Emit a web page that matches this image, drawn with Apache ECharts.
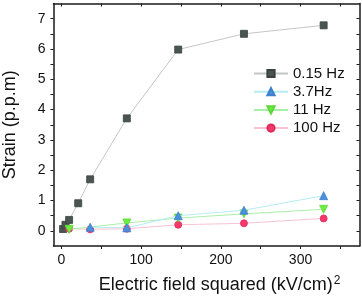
<!DOCTYPE html>
<html>
<head>
<meta charset="utf-8">
<script src="https://cdn.jsdelivr.net/npm/echarts@6/dist/echarts.min.js"></script>
<style>html,body{margin:0;padding:0;background:#fff}#c{width:362px;height:297px}</style>
</head>
<body>
<div id="c"></div>
<script>
const seriesNames = ['0.15 Hz', '3.7Hz', '11 Hz', '100 Hz'];
const x015 = [2, 5, 9.6, 21, 36, 82, 146.5, 229, 329];
const y015 = [0.06, 0.2, 0.36, 0.91, 1.7, 3.71, 5.98, 6.5, 6.78];
const x37 = [36, 82, 146.5, 229, 329];
const y37 = [0.12, 0.1, 0.5, 0.68, 1.16];
const x11 = [9.6, 82, 146.5, 229, 329];
const y11 = [0.05, 0.26, 0.42, 0.56, 0.71];
const x100 = [9.6, 36, 82, 146.5, 229, 329];
const y100 = [0.07, 0.05, 0.07, 0.2, 0.25, 0.41];
const xTickLabels = [0, 100, 200, 300];
const xTicks = [0, 50, 100, 150, 200, 250, 300, 350];
const yTickLabels = [0, 1, 2, 3, 4, 5, 6, 7];
const yTicks = [0, 0.5, 1, 1.5, 2, 2.5, 3, 3.5, 4, 4.5, 5, 5.5, 6, 6.5, 7];

const pair = (xs, ys) => xs.map((v, i) => [v, ys[i]]);
const FONT = 'Liberation Sans';
const X_MIN = -10, X_MAX = 374, Y_MIN = -0.5, Y_MAX = 7.5;
const lineC = '#1a1a1a';

function ax(pos, min, max, ticks, labels, inside, margin) {
  return {
    type: 'value', gridIndex: 0, position: pos, min: min, max: max,
    splitLine: { show: false },
    axisLine: { show: true, onZero: false, lineStyle: { color: lineC, width: 1.5 } },
    axisTick: { show: true, inside: inside, length: 3, customValues: ticks, lineStyle: { color: lineC, width: 1 } },
    axisLabel: labels ? { show: true, customValues: labels, margin: margin, fontFamily: FONT, fontSize: 14, color: '#111' } : { show: false }
  };
}

const xAxes = [
  ax('bottom', X_MIN, X_MAX, xTicks, xTickLabels, false, 7),
  ax('top', X_MIN, X_MAX, xTicks, null, true, 0)
];
Object.assign(xAxes[0], {
  name: 'Electric field squared (kV/cm){sup|2}',
  nameLocation: 'middle', nameGap: 29,
  nameTextStyle: {
    fontFamily: FONT, fontSize: 18, color: '#111', padding: [0, 0, 0, 26],
    rich: { sup: { fontFamily: FONT, fontSize: 12, color: '#111', verticalAlign: 'top', padding: [0, 0, 8, 1] } }
  }
});
const yAxes = [
  ax('left', Y_MIN, Y_MAX, yTicks, yTickLabels, false, 8),
  ax('right', Y_MIN, Y_MAX, yTicks, null, true, 0)
];
Object.assign(yAxes[0], {
  name: 'Strain (p.p.m)', nameLocation: 'middle', nameGap: 34,
  nameTextStyle: { fontFamily: FONT, fontSize: 18, color: '#111' }
});

function mk(name, data, symbol, size, fill, border, line, z) {
  return {
    name: name, type: 'line', data: data, xAxisIndex: 0, yAxisIndex: 0,
    symbol: symbol, symbolSize: size, z: z,
    itemStyle: { color: fill, borderColor: border, borderWidth: 0.8, opacity: 1 },
    lineStyle: { color: line, width: 1 },
    emphasis: { disabled: true }, animation: false
  };
}

const chart = echarts.init(document.getElementById('c'), null, { renderer: 'canvas' });
chart.setOption({
  animation: false,
  grid: { left: 53.5, right: 2.5, top: 3.5, bottom: 51, containLabel: false, outerBoundsMode: 'none' },
  xAxis: xAxes,
  yAxis: yAxes,
  legend: {
    data: seriesNames, orient: 'vertical', left: 253, top: 66, padding: 0,
    itemWidth: 34, itemHeight: 9, itemGap: 3.2,
    textStyle: { fontFamily: FONT, fontSize: 15, color: '#111' }
  },
  series: [
    mk(seriesNames[0], pair(x015, y015), 'rect', 7, '#4a5552', '#3a4240', '#c4c6c6', 2),
    mk(seriesNames[1], pair(x37, y37), 'triangle', 8, '#4a90dc', '#3d7fcc', '#b4ecf4', 5),
    mk(seriesNames[2], pair(x11, y11), 'path://M0,0 L10,0 L5,9 Z', 8, '#6bee3e', '#5cd834', '#a8f0a8', 4),
    mk(seriesNames[3], pair(x100, y100), 'circle', 7, '#f5386a', '#e02a5c', '#f8c2d2', 3),
    { type: 'line', name: 'frame', data: [], xAxisIndex: 1, yAxisIndex: 1, silent: true }
  ]
});
</script>
</body>
</html>
